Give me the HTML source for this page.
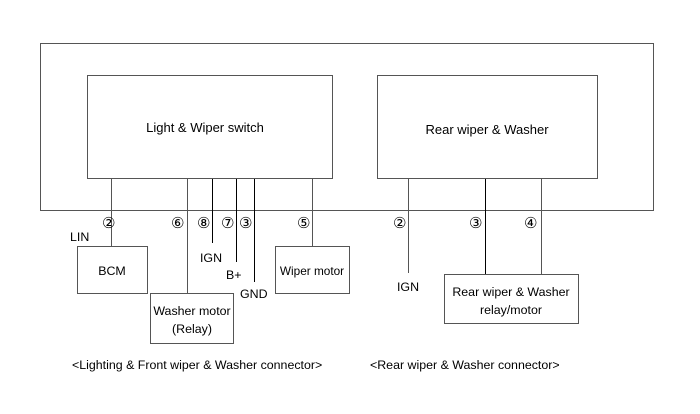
<!DOCTYPE html>
<html><head><meta charset="utf-8"><style>
html,body{margin:0;padding:0;background:#fff;}
svg{display:block;}
text{font-family:"Liberation Sans","DejaVu Sans",sans-serif;font-size:12.4px;fill:#000;}
.c{font-family:"DejaVu Sans","Noto Sans CJK JP",sans-serif;font-size:15px;}
</style></head><body>
<svg width="700" height="414" viewBox="0 0 700 414" xmlns="http://www.w3.org/2000/svg">
<g fill="none" stroke="#555" stroke-width="1">
<rect x="40.5" y="43.5" width="613" height="167"/>
<rect x="87.5" y="75.5" width="245" height="103" fill="#fff"/>
<rect x="377.5" y="75.5" width="220" height="103" fill="#fff"/>
<line x1="111.5" y1="179" x2="111.5" y2="247"/>
<line x1="187.5" y1="179" x2="187.5" y2="293"/>
<line x1="212.5" y1="179" x2="212.5" y2="243" stroke="#000"/>
<line x1="236.5" y1="179" x2="236.5" y2="262" stroke="#000"/>
<line x1="254.5" y1="179" x2="254.5" y2="282" stroke="#000"/>
<line x1="312.5" y1="179" x2="312.5" y2="246"/>
<line x1="408.5" y1="179" x2="408.5" y2="273"/>
<line x1="485.5" y1="179" x2="485.5" y2="274" stroke="#000"/>
<line x1="541.5" y1="179" x2="541.5" y2="274"/>
<rect x="77.5" y="246.5" width="70" height="47" fill="#fff"/>
<rect x="150.5" y="293.5" width="83" height="50" fill="#fff"/>
<rect x="275.5" y="246.5" width="74" height="47" fill="#fff"/>
<rect x="444.5" y="274.5" width="134" height="49" fill="#fff"/>
</g>
<text x="205" y="132" text-anchor="middle" style="font-size:13px">Light &amp; Wiper switch</text>
<text x="487" y="134" text-anchor="middle" style="font-size:13px">Rear wiper &amp; Washer</text>
<text x="102" y="228" class="c">②</text>
<text x="171" y="228" class="c">⑥</text>
<text x="197" y="228" class="c">⑧</text>
<text x="221" y="228" class="c">⑦</text>
<text x="239" y="228" class="c">③</text>
<text x="297" y="228" class="c">⑤</text>
<text x="393" y="228" class="c">②</text>
<text x="469" y="228" class="c">③</text>
<text x="524" y="228" class="c">④</text>
<text x="70" y="241">LIN</text>
<text x="112" y="275" text-anchor="middle">BCM</text>
<text x="211" y="262" text-anchor="middle">IGN</text>
<text x="226" y="279">B+</text>
<text x="240" y="298">GND</text>
<text x="312" y="275" text-anchor="middle" style="font-size:11.8px">Wiper motor</text>
<text x="192" y="315" text-anchor="middle">Washer motor</text>
<text x="192" y="333" text-anchor="middle">(Relay)</text>
<text x="408" y="291" text-anchor="middle">IGN</text>
<text x="511" y="296" text-anchor="middle">Rear wiper &amp; Washer</text>
<text x="511" y="314" text-anchor="middle">relay/motor</text>
<text x="72" y="369">&lt;Lighting &amp; Front wiper &amp; Washer connector&gt;</text>
<text x="370" y="369">&lt;Rear wiper &amp; Washer connector&gt;</text>
</svg>
</body></html>
